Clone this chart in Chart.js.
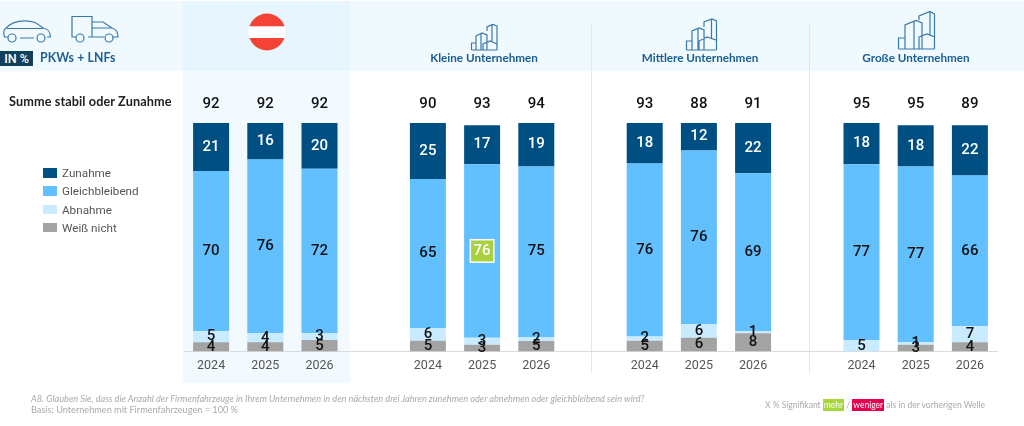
<!DOCTYPE html>
<html lang="de">
<head>
<meta charset="utf-8">
<script src="https://cdn.jsdelivr.net/npm/chart.js@4"></script>
<style>
html,body{margin:0;padding:0;background:#fff;width:1024px;height:426px;overflow:hidden;font-family:Lato,sans-serif}
.abs{position:absolute;white-space:nowrap}
#wrap{position:absolute;left:0;top:0;width:1024px;height:426px}
canvas{position:absolute;left:0;top:0}
.hd{color:#1a5e92;font-size:11.7px;font-weight:700;text-align:center;width:200px;top:50px;line-height:14px}
.lg{left:43px;width:120px;height:12px}
.lg i{position:absolute;left:0;top:0;width:14px;height:9.5px}
.lg span{position:absolute;left:19px;top:-2px;font-family:Roboto,sans-serif;font-size:11.7px;line-height:14px;color:#555}
</style>
</head>
<body>
<div id="wrap">
  <div class="abs" style="left:0;top:1px;width:1024px;height:70px;background:#f0f9fe"></div>
  <div class="abs" style="left:183px;top:1px;width:167px;height:382px;background:#f2faff"></div>
  <div class="abs" style="left:183px;top:1px;width:167px;height:70px;background:#e6f5fe"></div>
  <div class="abs" style="left:591px;top:25px;width:1px;height:348px;background:#e2e6e9"></div>
  <div class="abs" style="left:809px;top:25px;width:1px;height:348px;background:#e2e6e9"></div>
  <canvas id="c" width="1024" height="426"></canvas>

  <svg class="abs" style="left:0;top:0" width="1024" height="72" fill="none" stroke="#3b79a8" stroke-width="1.2">
    <!-- car -->
    <path d="M8 37H4.5C3.5 34 3.5 30 5 29C10 23 17 20.8 25 20.8C33 20.8 37 23 43 28C48 29 50.5 31 50.5 37H47M20 38H34"/>
    <path d="M7 28.5H43"/>
    <circle cx="12" cy="38" r="4"/><circle cx="41" cy="38" r="4"/>
    <!-- van -->
    <path d="M76 37H72V16.5H92V37M88 37H92M92 37H104M113 37H118C118 31 116 29 112 28L103 22H92M92 28H112"/>
    <circle cx="80" cy="38" r="4"/><circle cx="109" cy="38" r="4"/>
    <!-- buildings small -->
    <path d="M471.5 50V43H476M476 50V36L482 33L487 35V50M481 33V50M487 31V27L492.5 24.5L497 26V50M492 24.5V41M483 50V44L490 41L497 44M471.5 50H497"/>
    <!-- buildings medium -->
    <path d="M686.5 50V41H692M692 50V31L699 28L704 30V50M698 28V50M704 27V22L712 19L716.5 21V50M711.5 19V38M699 50V41L707 37L716 40M686.5 50H716.5"/>
    <!-- buildings large -->
    <path d="M898.5 49V38H905M905 49V25L916 20.5L922 23V49M914 21V49M919 20V16L930 11.5L934.5 14V49M930 11.5V36M919 49V37L927 34L935 37M898.5 49H934.5"/>
    <!-- flag -->
    <defs><clipPath id="fl"><circle cx="267" cy="32" r="18.5"/></clipPath></defs>
    <g clip-path="url(#fl)" stroke="none"><rect x="248" y="13" width="38" height="13.5" fill="#f44336"/><rect x="248" y="26.5" width="38" height="11.5" fill="#fff"/><rect x="248" y="38" width="38" height="13" fill="#f44336"/></g>
  </svg>

  <div class="abs" style="left:0;top:51px;width:33px;height:15px;background:#10415c;color:#fff;font-family:Roboto,sans-serif;font-size:12.5px;font-weight:500;line-height:15px;text-align:center">IN %</div>
  <div class="abs" style="left:40px;top:50px;font-size:12.3px;font-weight:700;line-height:15px;color:#1f6091;letter-spacing:.1px">PKWs + LNFs</div>
  <div class="abs hd" style="left:384px">Kleine Unternehmen</div>
  <div class="abs hd" style="left:600px">Mittlere Unternehmen</div>
  <div class="abs hd" style="left:816px">Große Unternehmen</div>
  <div class="abs" style="left:9px;top:94px;font-size:12.7px;font-weight:700;line-height:15px;color:#222;letter-spacing:.1px">Summe stabil oder Zunahme</div>
  <div id="legend"></div>
  <div class="abs" style="left:31px;top:392.5px;font-size:9.16px;font-style:italic;line-height:11px;color:#aaa">A8. Glauben Sie, dass die Anzahl der Firmenfahrzeuge in Ihrem Unternehmen in den nächsten drei Jahren zunehmen oder abnehmen oder gleichbleibend sein wird?</div>
  <div class="abs" style="left:31px;top:403.5px;font-size:9.16px;line-height:11px;color:#aaa">Basis: Unternehmen mit Firmenfahrzeugen = 100 %</div>
  <div class="abs" style="left:765px;top:400px;font-size:8.5px;line-height:11px;color:#aaa">X % Signifikant <span style="background:#a6d63c;color:#fff;padding:1px 1px">mehr</span> / <span style="background:#e8004f;color:#fff;padding:1px 1px">weniger</span> als in der vorherigen Welle</div>
</div>
<script>
const categories = ['2024','2025','2026','','2024','2025','2026','','2024','2025','2026','','2024','2025','2026'];
const totals     = [92,92,92,null,90,93,94,null,93,88,91,null,95,95,89];
const zunahme       = [21,16,20,null,24.5,17,19,null,17.7,12,22,null,18,18,22];
const gleichbleibend= [70,76,72,null,65.2,76,74.6,null,75.7,76,69,null,77,77,66];
const abnahme       = [5,4,3,null,5.6,3,1.8,null,1.9,6,1,null,5,1,7];
const weissNicht    = [4,4,5,null,4.7,3,4.6,null,4.7,6,8,null,0,3,4];
const highlighted   = [5]; // category index of the significant "76"
const seriesNames = ['Zunahme','Gleichbleibend','Abnahme','Weiß nicht'];
const seriesColors = ['#004f82','#63c0ff','#c9ebff','#a3a3a3'];
const seriesValues = [zunahme,gleichbleibend,abnahme,weissNicht];

const FONT = 'Roboto, sans-serif';
const labelsPlugin = {
  id:'valueLabels',
  afterDatasetsDraw(chart){
    const ctx = chart.ctx, x = chart.scales.x, y = chart.scales.y;
    ctx.save();
    ctx.textAlign='center'; ctx.textBaseline='middle';
    ctx.font = '500 15px '+FONT;
    totals.forEach((t,i)=>{ if(t!==null){ ctx.fillStyle='#111'; ctx.fillText(String(t), x.getPixelForValue(i), y.getPixelForValue(108)); }});
    chart.data.datasets.forEach((ds,d)=>{
      const meta = chart.getDatasetMeta(d);
      ds.data.forEach((v,i)=>{
        if(!v) return;
        const c = meta.data[i].getCenterPoint();
        const isHi = ds.label==='Gleichbleibend' && highlighted.includes(i);
        if(isHi){
          ctx.fillStyle='#fff'; ctx.fillRect(c.x-12.5,c.y-12,25,24);
          ctx.fillStyle='#a9d13f'; ctx.fillRect(c.x-11,c.y-10.5,22,21);
        }
        ctx.fillStyle = (ds.label==='Zunahme'||isHi) ? '#fff' : '#111';
        ctx.fillText(String(Math.round(v)), c.x, c.y);
      });
    });
    ctx.restore();
  }
};

// stacked bottom-up: the last legend entry sits at the bottom of the bar
const order = [3,2,1,0];
new Chart(document.getElementById('c'),{
  type:'bar',
  data:{
    labels:categories,
    datasets:order.map(k=>({
      label:seriesNames[k],
      data:seriesValues[k],
      backgroundColor:seriesColors[k],
      borderWidth:0,
      barPercentage:0.664,
      categoryPercentage:1
    }))
  },
  options:{
    responsive:false,
    animation:false,
    layout:{padding:{left:184,right:27,top:123,bottom:0}},
    plugins:{legend:{display:false},tooltip:{enabled:false}},
    scales:{
      x:{stacked:true,
         grid:{display:false,drawTicks:false},
         border:{color:'#dcdcdc',width:1},
         ticks:{color:'#555',font:{family:FONT,size:12.5},padding:7,autoSkip:false,maxRotation:0},
         afterFit(s){s.height=74.5;}},
      y:{stacked:true,display:false,min:0,max:100}
    }
  },
  plugins:[labelsPlugin]
});

const lg = document.getElementById('legend');
seriesNames.forEach((n,i)=>{
  const d=document.createElement('div');
  d.className='abs lg';
  d.style.top=(168+i*18.3)+'px';
  d.innerHTML='<i style="background:'+seriesColors[i]+'"></i><span>'+n+'</span>';
  lg.appendChild(d);
});
</script>
</body>
</html>
